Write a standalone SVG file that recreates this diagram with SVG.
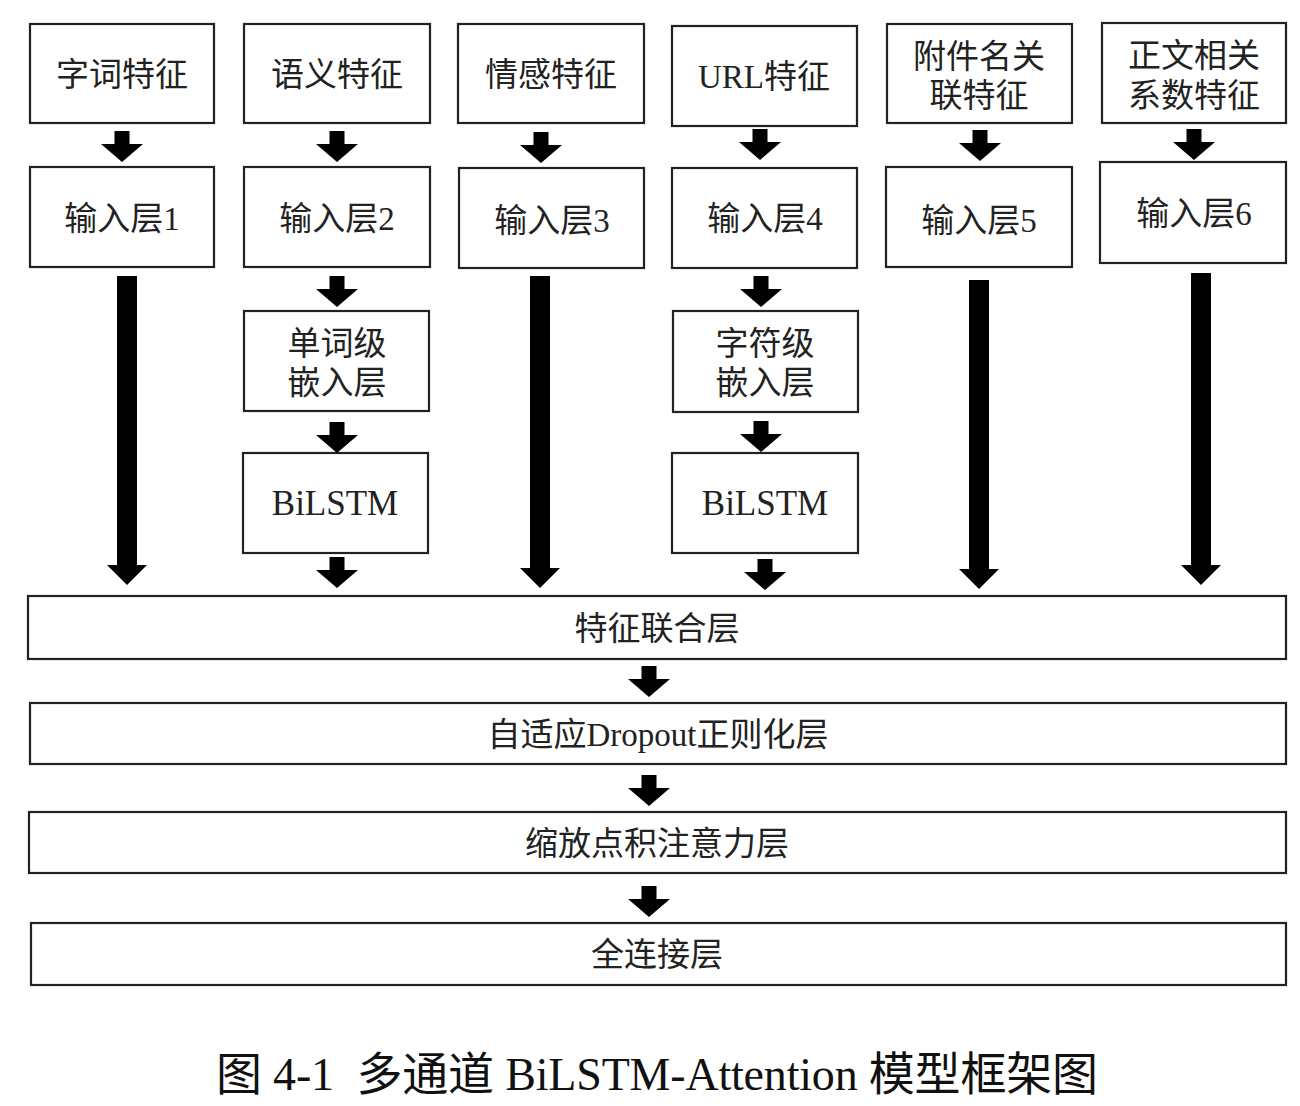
<svg xmlns="http://www.w3.org/2000/svg" xmlns:xlink="http://www.w3.org/1999/xlink" width="1300" height="1106" viewBox="0 0 1300 1106">
<style>
.box{fill:#fff;stroke:#222;stroke-width:2.2}
.t{font-family:"Liberation Serif","Noto Sans CJK SC",serif;font-size:33px;fill:#222;text-anchor:middle;dominant-baseline:central}
.lat{font-size:35px}
.cap{font-family:"Liberation Serif","Noto Sans CJK SC",serif;font-size:46px;fill:#111;dominant-baseline:central;white-space:pre}
.arr{fill:#000}
</style>
<defs>
<path id="sa" class="arr" d="M-7.5,-31 L7.5,-31 L7.5,-18 L21,-18 L0,0 L-21,-18 L-7.5,-18 Z"/>
</defs>
<rect width="1300" height="1106" fill="#fff"/>

<g id="n_zici"><rect class="box" x="30" y="24" width="184" height="99"/><text class="t" x="122" y="75">字词特征</text></g>
<g id="n_yuyi"><rect class="box" x="244" y="24" width="186" height="99"/><text class="t" x="337" y="75">语义特征</text></g>
<g id="n_qinggan"><rect class="box" x="458" y="24" width="186" height="99"/><text class="t" x="551" y="75">情感特征</text></g>
<g id="n_url"><rect class="box" x="672" y="26" width="185" height="100"/><text class="t" x="764" y="77">URL特征</text></g>
<g id="n_fujian"><rect class="box" x="887" y="24" width="185" height="99"/><text class="t" x="979" y="57">附件名关</text><text class="t" x="979" y="96">联特征</text></g>
<g id="n_zhengwen"><rect class="box" x="1102" y="23" width="184" height="100"/><text class="t" x="1194" y="56">正文相关</text><text class="t" x="1194" y="96">系数特征</text></g>

<g id="n_in1"><rect class="box" x="30" y="167" width="184" height="100"/><text class="t" x="122" y="219">输入层1</text></g>
<g id="n_in2"><rect class="box" x="244" y="167" width="186" height="100"/><text class="t" x="337" y="219">输入层2</text></g>
<g id="n_in3"><rect class="box" x="459" y="168" width="185" height="100"/><text class="t" x="552" y="221">输入层3</text></g>
<g id="n_in4"><rect class="box" x="672" y="168" width="185" height="100"/><text class="t" x="765" y="219">输入层4</text></g>
<g id="n_in5"><rect class="box" x="886" y="167" width="186" height="100"/><text class="t" x="979" y="221">输入层5</text></g>
<g id="n_in6"><rect class="box" x="1100" y="162" width="186" height="101"/><text class="t" x="1194" y="214">输入层6</text></g>

<g id="n_wordemb"><rect class="box" x="244" y="311" width="185" height="100"/><text class="t" x="337" y="344">单词级</text><text class="t" x="337" y="383">嵌入层</text></g>
<g id="n_bilstm1"><rect class="box" x="243" y="453" width="185" height="100"/><text class="t lat" x="335" y="503">BiLSTM</text></g>
<g id="n_charemb"><rect class="box" x="673" y="311" width="185" height="101"/><text class="t" x="765" y="344">字符级</text><text class="t" x="765" y="383">嵌入层</text></g>
<g id="n_bilstm2"><rect class="box" x="672" y="453" width="186" height="100"/><text class="t lat" x="765" y="503">BiLSTM</text></g>

<g id="n_concat"><rect class="box" x="28" y="596" width="1258" height="63"/><text class="t" x="657" y="629">特征联合层</text></g>
<g id="n_dropout"><rect class="box" x="30" y="703" width="1256" height="61"/><text class="t" x="658" y="735">自适应Dropout正则化层</text></g>
<g id="n_attn"><rect class="box" x="29" y="812" width="1257" height="61"/><text class="t" x="657" y="844">缩放点积注意力层</text></g>
<g id="n_fc"><rect class="box" x="31" y="923" width="1255" height="62"/><text class="t" x="657" y="955">全连接层</text></g>

<g id="connectors">
<use xlink:href="#sa" x="122" y="162"/>
<use xlink:href="#sa" x="337" y="162"/>
<use xlink:href="#sa" x="541" y="163"/>
<use xlink:href="#sa" x="760" y="160"/>
<use xlink:href="#sa" x="980" y="161"/>
<use xlink:href="#sa" x="1194" y="160"/>
<use xlink:href="#sa" x="337" y="307"/>
<use xlink:href="#sa" x="337" y="453"/>
<use xlink:href="#sa" x="337" y="588"/>
<use xlink:href="#sa" x="761" y="307"/>
<use xlink:href="#sa" x="761" y="452"/>
<use xlink:href="#sa" x="765" y="590"/>
<use xlink:href="#sa" x="649" y="697"/>
<use xlink:href="#sa" x="649" y="806"/>
<use xlink:href="#sa" x="649" y="917"/>
<path class="arr" d="M117,276 L137,276 L137,565 L147,565 L127,585 L107,565 L117,565 Z"/>
<path class="arr" d="M530,276 L550,276 L550,568 L560,568 L540,588 L520,568 L530,568 Z"/>
<path class="arr" d="M969,280 L989,280 L989,569 L999,569 L979,589 L959,569 L969,569 Z"/>
<path class="arr" d="M1191,273 L1211,273 L1211,565 L1221,565 L1201,585 L1181,565 L1191,565 Z"/>
</g>

<text class="cap" x="216" y="1074" textLength="882" lengthAdjust="spacing">图 4-1  多通道 BiLSTM-Attention 模型框架图</text>
</svg>
